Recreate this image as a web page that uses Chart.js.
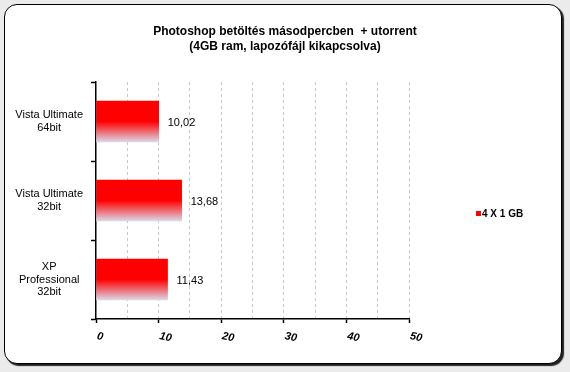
<!DOCTYPE html>
<html>
<head>
<meta charset="utf-8">
<script src="https://cdn.jsdelivr.net/npm/chart.js@4/dist/chart.umd.min.js"></script>
<style>
  html, body { margin: 0; padding: 0; background: #ebebeb; }
  body { width: 570px; height: 372px; position: relative; overflow: hidden; }
  #frame {
    position: absolute; left: 4px; top: 4px; width: 556px; height: 358px;
    border: 1px solid #000; border-radius: 13px; background: #fff;
    box-shadow: 2px 2px 1px #222;
  }
  #wrap { position: absolute; left: 0; top: 0; width: 570px; height: 372px; }
</style>
</head>
<body>
<div id="frame"></div>
<div id="wrap"><canvas id="chart" width="570" height="372"></canvas></div>
<script>
// adatok
const titleLines = ["Photoshop betöltés másodpercben  + utorrent", "(4GB ram, lapozófájl kikapcsolva)"];
const categories = [["Vista Ultimate", "64bit"], ["Vista Ultimate", "32bit"], ["XP", "Professional", "32bit"]];
const loadSeconds = [10.02, 13.68, 11.43];
const seriesName = "4 X 1 GB";
const xTickLabels = [0, 10, 20, 30, 40, 50];

Chart.defaults.font.family = 'Arial, "Liberation Sans", sans-serif';
Chart.defaults.color = "#000";

const RED = "#ff0000";
const BAR_H = 41;

// szín átmenet a sávokon
function barGradient(c) {
  const chart = c.chart;
  const y = chart.scales.y;
  if (!chart.chartArea || !y || c.dataIndex === undefined) return RED;
  const mid = y.getPixelForValue(c.dataIndex);
  const g = chart.ctx.createLinearGradient(0, mid - BAR_H / 2, 0, mid + BAR_H / 2);
  g.addColorStop(0, RED);
  g.addColorStop(0.5, RED);
  g.addColorStop(1, "#dcd8e8");
  return g;
}

const valueLabels = {
  id: "valueLabels",
  afterDatasetsDraw(chart) {
    const ctx = chart.ctx;
    const meta = chart.getDatasetMeta(0);
    ctx.save();
    ctx.font = '11px Arial, "Liberation Sans", sans-serif';
    ctx.fillStyle = "#000";
    ctx.textAlign = "left";
    ctx.textBaseline = "middle";
    meta.data.forEach((bar, i) => {
      const txt = loadSeconds[i].toFixed(2).replace(".", ",");
      ctx.fillText(txt, bar.x + 9, bar.y + 1);
    });
    ctx.restore();
  }
};

const slantedTicks = {
  id: "slantedTicks",
  afterDraw(chart) {
    const ctx = chart.ctx;
    const xs = chart.scales.x;
    ctx.save();
    ctx.font = 'italic bold 11px Arial, "Liberation Sans", sans-serif';
    ctx.fillStyle = "#000";
    ctx.textAlign = "left";
    ctx.textBaseline = "middle";
    xTickLabels.forEach(v => {
      const px = xs.getPixelForValue(v);
      ctx.save();
      ctx.translate(px + 1, xs.top + 17);
      ctx.rotate(0.2);
      ctx.fillText(String(v), 0, 0);
      ctx.restore();
    });
    ctx.restore();
  }
};

const sideLegend = {
  id: "sideLegend",
  afterDraw(chart) {
    const ctx = chart.ctx;
    const ds = chart.data.datasets[0];
    ctx.save();
    ctx.fillStyle = RED;
    ctx.fillRect(476, 211, 5, 5);
    ctx.font = 'bold 10px Arial, "Liberation Sans", sans-serif';
    ctx.fillStyle = "#000";
    ctx.textAlign = "left";
    ctx.textBaseline = "middle";
    ctx.fillText(ds.label, 482, 214);
    ctx.restore();
  }
};

new Chart(document.getElementById("chart"), {
  type: "bar",
  data: {
    labels: categories,
    datasets: [{
      label: seriesName,
      data: loadSeconds,
      backgroundColor: barGradient,
      borderWidth: 0,
      barThickness: BAR_H
    }]
  },
  options: {
    indexAxis: "y",
    responsive: false,
    animation: false,
    layout: { padding: 0 },
    plugins: {
      legend: { display: false },
      tooltip: { enabled: false },
      title: {
        display: true,
        text: titleLines,
        color: "#000",
        font: { size: 12, weight: "bold", lineHeight: 1.25 },
        padding: { top: 24, bottom: 28 }
      }
    },
    scales: {
      x: {
        min: 0,
        max: 50,
        ticks: { stepSize: 5, display: false },
        grid: {
          color: c => (c.tick && c.tick.value === 0 ? "rgba(0,0,0,0)" : "#c8c8c8"),
          tickColor: c => (c.tick && xTickLabels.includes(c.tick.value) ? "#000" : "rgba(0,0,0,0)"),
          tickLength: 4,
          tickWidth: 1.5
        },
        border: { color: "#000", width: 1.5, dash: [3, 3] },
        afterFit: s => { s.height = 53; }
      },
      y: {
        ticks: {
          crossAlign: "center",
          padding: 8,
          font: { size: 11, lineHeight: 1.15 },
          color: "#000"
        },
        grid: { drawOnChartArea: false, tickColor: "#000", tickLength: 5, tickWidth: 1.5 },
        border: { color: "#000", width: 1.5 },
        afterFit: s => { s.width = 96; }
      },
      side: {
        type: "linear",
        position: "right",
        display: true,
        grid: { display: false },
        ticks: { display: false },
        border: { display: false },
        afterFit: s => { s.width = 161; }
      }
    }
  },
  plugins: [valueLabels, slantedTicks, sideLegend]
});
</script>
</body>
</html>
